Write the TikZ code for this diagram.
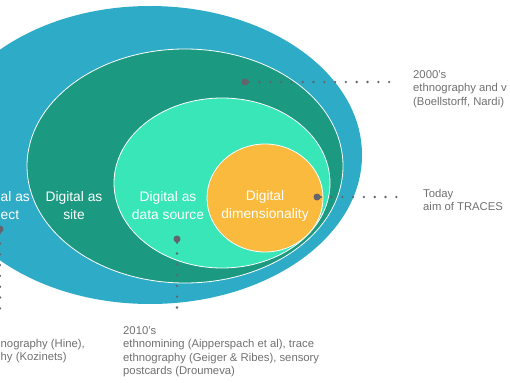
\documentclass[tikz,border=0pt]{standalone}
\usepackage{fontspec}
\setmainfont{Liberation Sans}
\begin{document}
\begin{tikzpicture}[x=1pt,y=-1pt,
  ring/.style={draw=white,line width=0.8pt},
  lbl/.style={text=white,font=\fontsize{13.8}{18}\selectfont,align=center,inner sep=0pt},
  note/.style={text=cgrey,font=\fontsize{11.3}{13.6}\selectfont,align=left,inner sep=0pt,anchor=north west},
  bigdot/.style={circle,fill=cdot,inner sep=0pt,minimum size=7pt},
  dotline/.style={draw=cdot,line width=2.6pt,line cap=round,dash pattern=on 0pt off 10.8pt}]
\definecolor{cblue}{RGB}{46,172,199}
\definecolor{cdgreen}{RGB}{27,153,129}
\definecolor{clgreen}{RGB}{56,230,183}
\definecolor{corange}{RGB}{249,186,61}
\definecolor{cgrey}{RGB}{112,112,112}
\definecolor{cdot}{RGB}{100,100,108}
\useasboundingbox (0,0) rectangle (510,382);
\begin{scope}
\clip (0,0) rectangle (510,382);
\fill[cblue] (150,155) ellipse [x radius=212, y radius=149];
\filldraw[fill=cdgreen,ring] (185,166) ellipse [x radius=158, y radius=117];
\filldraw[fill=clgreen,ring] (222,183) ellipse [x radius=108, y radius=85];
\filldraw[fill=corange,ring] (265,198) ellipse [x radius=58, y radius=54];

\node[lbl,anchor=west] (obj1) at (0.5,197) {al as};
\node[lbl,anchor=west] (obj2) at (0.5,215) {ect};
\node[lbl] (site) at (74,206) {Digital as\\site};
\node[lbl] (data) at (168,206) {Digital as\\data source};
\node[lbl] (dim) at (265,206) {Digital\\dimensionality};

\node[bigdot] (d1) at (245,82) {};
\coordinate (e1) at (396,82);
\draw[dotline] (d1) -- (e1);
\node[note] (t1) at (413,70) {2000's\\ethnography and v\\(Boellstorff, Nardi)};

\node[bigdot] (d2) at (317,197) {};
\coordinate (e2) at (400,197);
\draw[dotline] (d2) -- (e2);
\node[note] (t2) at (423,189) {Today\\aim of TRACES};

\node[bigdot] (d3) at (177,239) {};
\coordinate (e3) at (177,316);
\draw[dotline] (d3) -- (e3);
\node[note] (t3) at (123,326) {2010's\\ethnomining (Aipperspach et al), trace\\ethnography (Geiger \& Ribes), sensory\\postcards (Droumeva)};

\node[bigdot] (d4) at (0,229) {};
\coordinate (e4) at (0,310);
\draw[dotline] (d4) -- (e4);
\node[note] (t4) at (0.5,339) {nography (Hine),\\hy (Kozinets)};
\end{scope}
\end{tikzpicture}
\end{document}
